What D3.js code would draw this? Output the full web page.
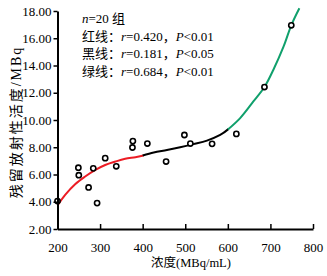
<!DOCTYPE html>
<html>
<head>
<meta charset="utf-8">
<script src="https://cdn.jsdelivr.net/npm/d3@7"></script>
<style>
  body { margin: 0; background: #fff; }
  svg text { font-family: "Liberation Serif", "Noto Sans CJK SC", serif; fill: #000; }
</style>
</head>
<body>
<div id="chart"></div>
<script>
(function () {
  // scatter points (concentration MBq/mL, residual activity MBq)
  const pointX = [200, 249, 250, 273, 284, 293, 312, 338, 376, 377, 411, 455, 498, 512, 563, 620, 686, 749];
  const pointY = [4.05, 6.5, 5.95, 5.05, 6.45, 3.9, 7.2, 6.6, 7.98, 8.45, 8.27, 6.95, 8.9, 8.27, 8.25, 8.98, 12.42, 16.95];

  // fitted curves
  const redX = [200, 218, 242, 265, 289, 312, 336, 359, 383, 402];
  const redY = [3.72, 4.5, 5.3, 5.85, 6.34, 6.7, 6.95, 7.15, 7.27, 7.39];
  const blackX = [400, 426, 457, 488, 519, 551, 582, 602];
  const blackY = [7.4, 7.62, 7.8, 8.0, 8.23, 8.49, 8.9, 9.35];
  const greenX = [600, 629, 660, 686, 707, 731, 749, 768];
  const greenY = [9.3, 10.14, 11.36, 12.42, 13.69, 15.4, 16.95, 18.2];

  const xTicks = [200, 300, 400, 500, 600, 700, 800];
  const yTicks = [2, 4, 6, 8, 10, 12, 14, 16, 18];

  const notes = [
    { label: "红线：", r: "0.420", p: "0.01" },
    { label: "黑线：", r: "0.181", p: "0.05" },
    { label: "绿线：", r: "0.684", p: "0.01" }
  ];

  const width = 327, height = 276;
  const margin = { top: 11, right: 14, bottom: 47, left: 57.5 };
  const innerWidth = width - margin.left - margin.right;
  const innerHeight = height - margin.top - margin.bottom;

  const svg = d3.select("#chart").append("svg")
    .attr("width", width)
    .attr("height", height);

  const plot = svg.append("g")
    .attr("transform", `translate(${margin.left},${margin.top})`);

  const x = d3.scaleLinear().domain([200, 800]).range([0, innerWidth]);
  const y = d3.scaleLinear().domain([2, 18]).range([innerHeight, 0]);

  // curves
  const line = d3.line()
    .x(d => x(d[0]))
    .y(d => y(d[1]))
    .curve(d3.curveCatmullRom);

  const curves = [
    { xs: redX, ys: redY, color: "#ec1c24" },
    { xs: blackX, ys: blackY, color: "#000" },
    { xs: greenX, ys: greenY, color: "#10a06c" }
  ];

  curves.forEach(c => {
    plot.append("path")
      .datum(c.xs.map((v, i) => [v, c.ys[i]]))
      .attr("d", line)
      .attr("fill", "none")
      .attr("stroke", c.color)
      .attr("stroke-width", 2);
  });

  // points
  plot.selectAll(".pt")
    .data(pointX.map((v, i) => [v, pointY[i]]))
    .join("circle")
    .attr("class", "pt")
    .attr("cx", d => x(d[0]))
    .attr("cy", d => y(d[1]))
    .attr("r", 2.6)
    .attr("fill", "#fff")
    .attr("stroke", "#000")
    .attr("stroke-width", 1.6);

  // x axis (ticks point inward)
  plot.append("g")
    .attr("transform", `translate(0,${innerHeight})`)
    .call(d3.axisBottom(x).tickValues(xTicks).tickSize(-5).tickPadding(14).tickSizeOuter(0))
    .call(g => g.select(".domain").attr("stroke-width", 2))
    .call(g => g.selectAll(".tick line").attr("stroke-width", 1.5))
    .call(g => g.selectAll(".tick text")
      .style("font-size", "13px")
      .attr("font-family", "Liberation Serif"));

  // y axis
  plot.append("g")
    .call(d3.axisLeft(y).tickValues(yTicks).tickFormat(d3.format(".2f")).tickSize(4).tickPadding(2).tickSizeOuter(0))
    .call(g => g.select(".domain").attr("stroke-width", 2))
    .call(g => g.selectAll(".tick line").attr("stroke-width", 1.5))
    .call(g => g.selectAll(".tick text")
      .style("font-size", "13px")
      .attr("font-family", "Liberation Serif"));

  // axis titles
  svg.append("text")
    .attr("x", 191)
    .attr("y", 267)
    .attr("text-anchor", "middle")
    .style("font-size", "12.5px")
    .text("浓度(MBq/mL)");

  svg.append("text")
    .attr("transform", "translate(21,122) rotate(-90)")
    .attr("text-anchor", "middle")
    .style("font-size", "14px")
    .style("letter-spacing", "2px")
    .text("残留放射性活度/MBq");

  // annotation
  const note = svg.append("g").attr("transform", "translate(82,0)");
  const first = note.append("text").attr("y", 23).style("font-size", "13px");
  first.append("tspan").style("font-style", "italic").text("n");
  first.append("tspan").text("=20 组");

  notes.forEach((d, i) => {
    const t = note.append("text").attr("y", 40.5 + i * 17.5).style("font-size", "13px");
    t.append("tspan").text(d.label);
    t.append("tspan").style("font-style", "italic").text("r");
    t.append("tspan").text("=" + d.r + "，");
    t.append("tspan").style("font-style", "italic").text("P");
    t.append("tspan").text("<" + d.p);
  });
})();
</script>
</body>
</html>
